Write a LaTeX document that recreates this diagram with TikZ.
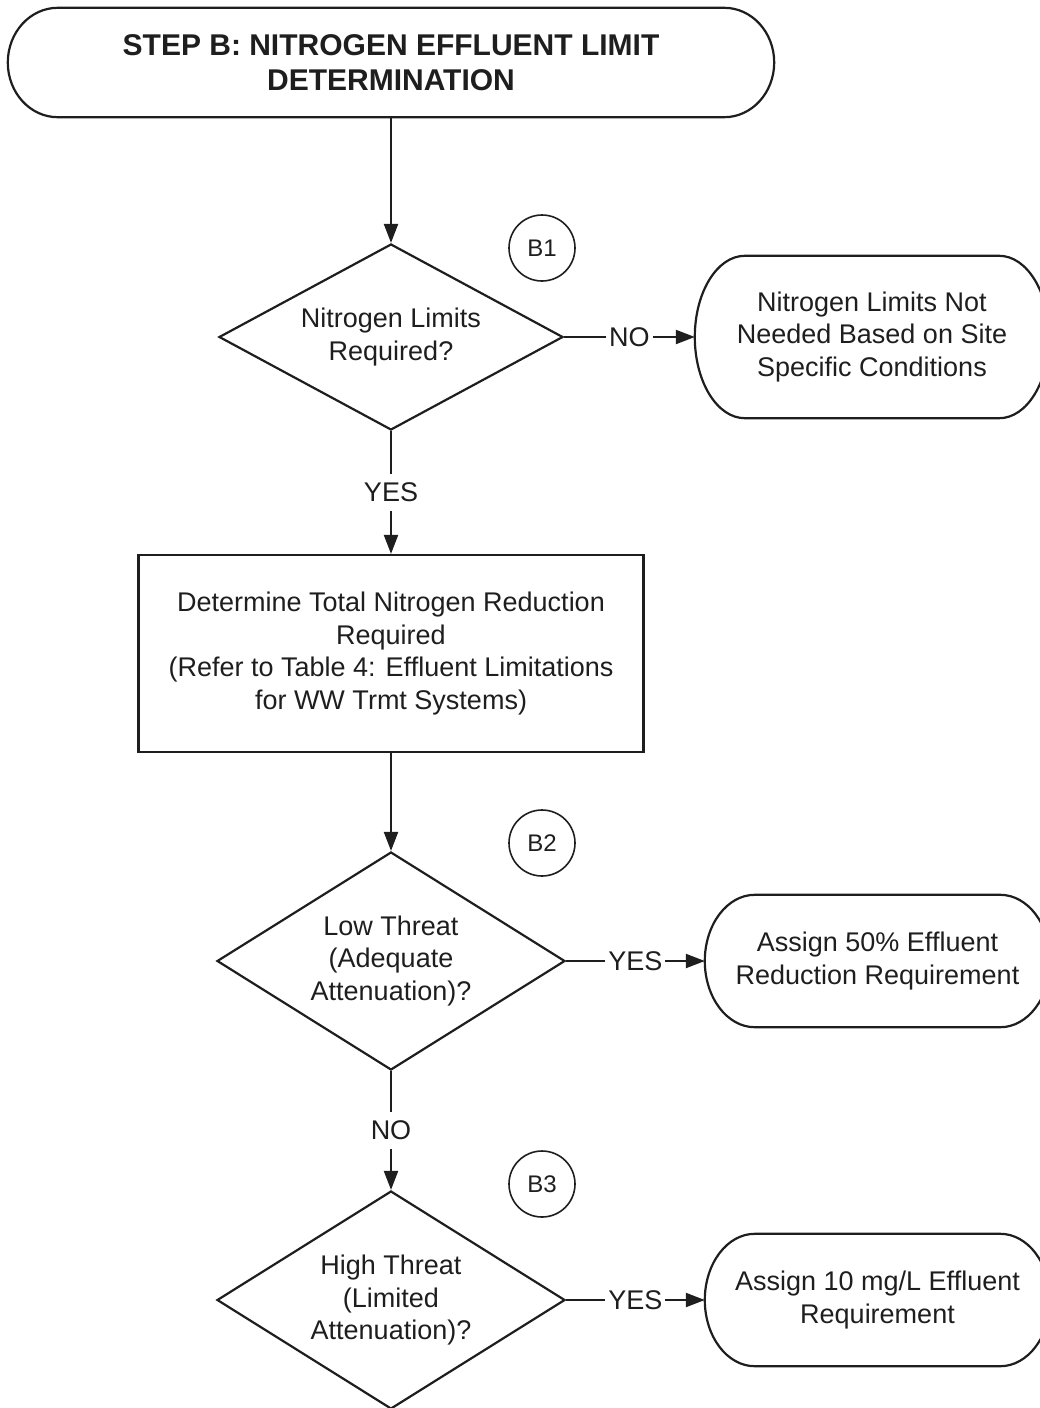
\documentclass[tikz,border=0pt]{standalone}
\usepackage{fontspec}
\setmainfont{Liberation Sans}
\usepackage{tikz}
\usetikzlibrary{shapes.geometric,arrows.meta,calc}
\definecolor{scanink}{RGB}{30,30,30}

\newcommand{\bodysize}{\fontsize{27pt}{32.5pt}\selectfont}
\newcommand{\titlesize}{\fontsize{30pt}{35pt}\selectfont\bfseries}
\newcommand{\marksize}{\fontsize{24pt}{28pt}\selectfont}

\tikzset{
  flowline/.style={line width=2.2pt},
  flowarrow/.style={flowline, -{Triangle[length=19pt,width=14pt]}},
  termnode/.style={rectangle, inner sep=0pt, align=center, font=\bodysize},
  decision/.style={diamond, draw, flowline, aspect=1.85, inner sep=0pt, align=center, font=\bodysize},
  processbox/.style={rectangle, draw, flowline, inner sep=0pt, align=center, font=\bodysize},
  stepmark/.style={circle, draw, line width=1.6pt, minimum size=66pt, inner sep=0pt, font=\marksize},
  branchlabel/.style={fill=white, inner xsep=3pt, inner ysep=9pt, font=\bodysize}
}

% outline of a terminal: straight top and bottom, elliptic ends
\newcommand{\termoutline}[1]{%
  \draw[flowline] let \p1=(#1.north), \p2=(#1.south), \n1={(\y1-\y2)/2} in
    ([xshift=50pt]#1.north west) -- ([xshift=-50pt]#1.north east)
    arc[start angle=90, end angle=-90, x radius=50pt, y radius=\n1]
    -- ([xshift=50pt]#1.south west)
    arc[start angle=270, end angle=90, x radius=50pt, y radius=\n1] -- cycle;}

\begin{document}
\begin{tikzpicture}[x=1pt, y=1pt, color=scanink]
    \useasboundingbox (0,0) rectangle (1039,-1408);

    % Start of step B
    \node[termnode, font=\titlesize, minimum width=766pt, minimum height=109pt] (stepB) at (391,-62.5)
        {STEP B: NITROGEN EFFLUENT LIMIT\\DETERMINATION};
    \termoutline{stepB}

    % Decision B1
    \node[decision, minimum width=344pt, minimum height=186pt] (limits) at (391,-337)
        {Nitrogen Limits\\Required?};
    \node[stepmark] (markB1) at (542,-248) {B1};
    \node[termnode, minimum width=354pt, minimum height=162pt] (notneeded) at (872,-337)
        {Nitrogen Limits Not\\Needed Based on Site\\Specific Conditions};
    \termoutline{notneeded}

    % Total nitrogen reduction
    \node[processbox, minimum width=505pt, minimum height=197pt] (reduction) at (391,-653.5)
        {Determine Total Nitrogen Reduction\\Required\\(Refer to Table 4: Effluent Limitations\\for WW Trmt Systems)};

    % Decision B2
    \node[decision, minimum width=348pt, minimum height=218pt] (lowthreat) at (391,-961)
        {Low Threat\\(Adequate\\Attenuation)?};
    \node[stepmark] (markB2) at (542,-843) {B2};
    \node[termnode, minimum width=345pt, minimum height=132pt] (fiftyperc) at (877.5,-961)
        {Assign 50\% Effluent\\Reduction Requirement};
    \termoutline{fiftyperc}

    % Decision B3
    \node[decision, minimum width=348pt, minimum height=218pt] (highthreat) at (391,-1300)
        {High Threat\\(Limited\\Attenuation)?};
    \node[stepmark] (markB3) at (542,-1184) {B3};
    \node[termnode, minimum width=345pt, minimum height=132pt] (tenmg) at (877.5,-1300)
        {Assign 10 mg/L Effluent\\Requirement};
    \termoutline{tenmg}

    % Connectors
    \draw[flowarrow] (stepB.south) -- (limits.north);
    \draw[flowarrow] (limits.east) -- node[branchlabel] {NO} (notneeded.west);
    \draw[flowarrow] (limits.south) -- node[branchlabel] {YES} (reduction.north);
    \draw[flowarrow] (reduction.south) -- (lowthreat.north);
    \draw[flowarrow] (lowthreat.east) -- node[branchlabel] {YES} (fiftyperc.west);
    \draw[flowarrow] (lowthreat.south) -- node[branchlabel] {NO} (highthreat.north);
    \draw[flowarrow] (highthreat.east) -- node[branchlabel] {YES} (tenmg.west);

\end{tikzpicture}
\end{document}
